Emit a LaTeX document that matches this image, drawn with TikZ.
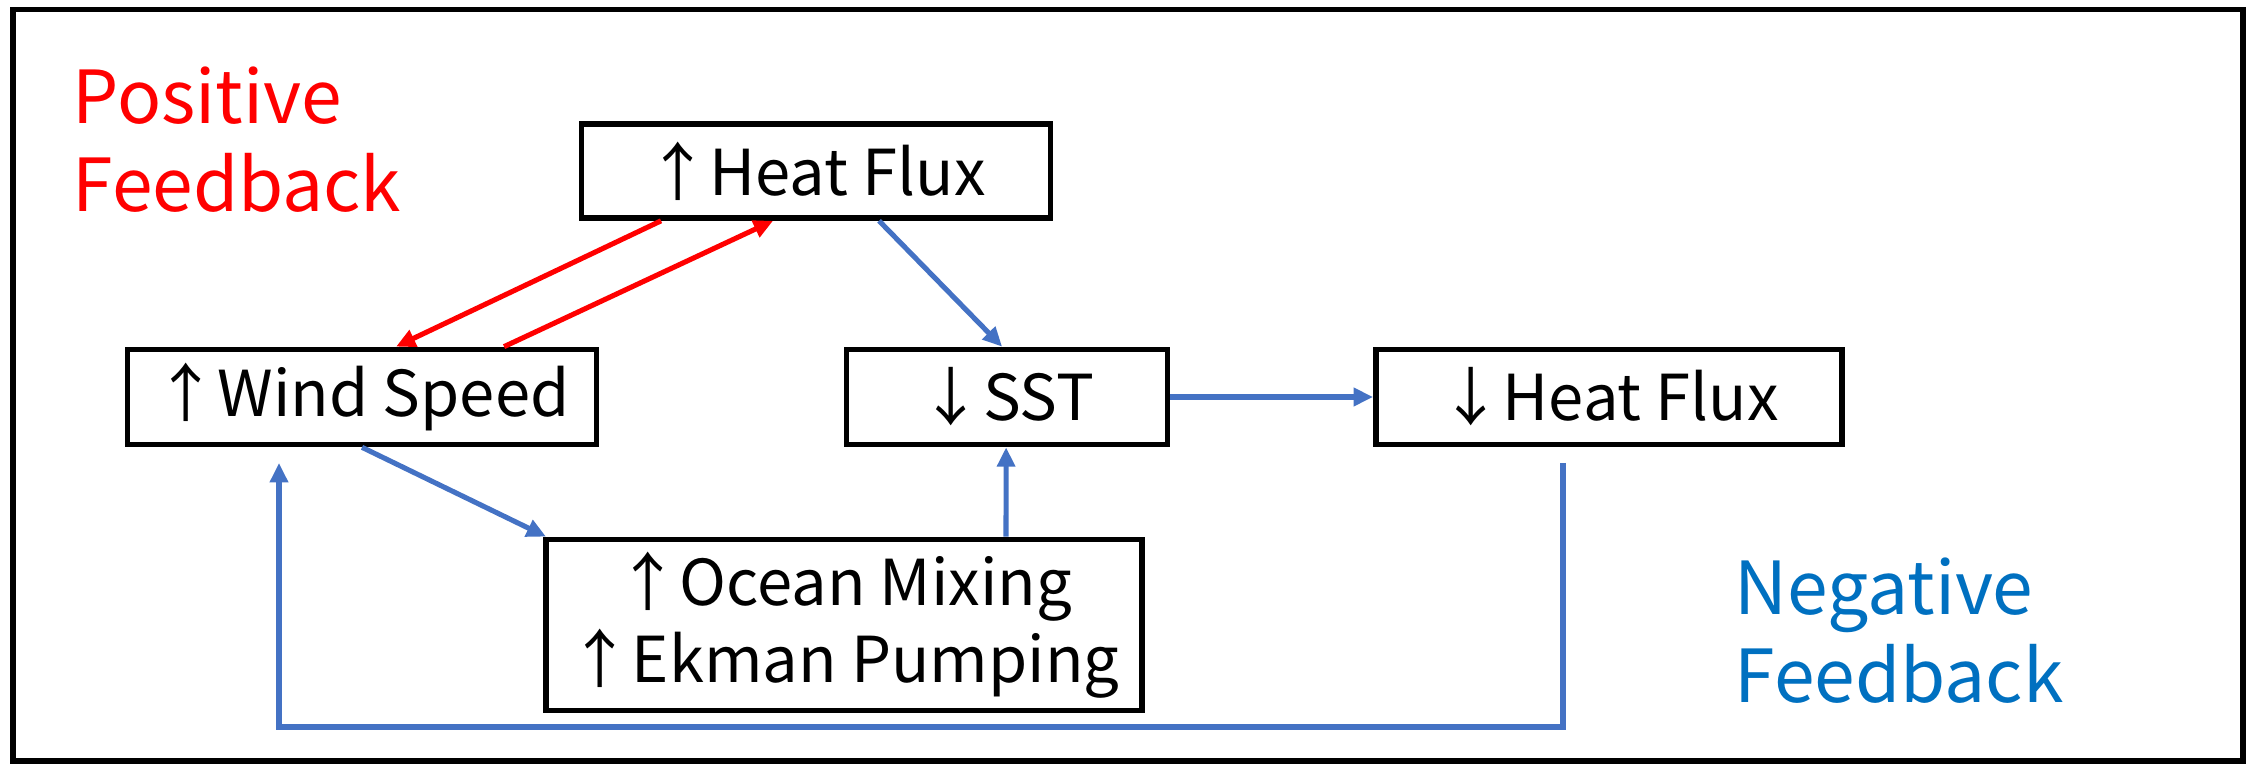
\documentclass[tikz,border=0pt]{standalone}
\usepackage{fontspec}
\setmainfont{Noto Sans CJK JP}
\usetikzlibrary{arrows.meta,calc}
\definecolor{posred}{RGB}{255,0,0}
\definecolor{linkblue}{RGB}{68,114,196}
\definecolor{negblue}{RGB}{0,112,192}
\begin{document}
\begin{tikzpicture}[x=0.01cm,y=-0.01cm,
  box/.style={draw=black,line width=1.6pt,inner sep=0pt,align=center,
    font=\fontsize{18}{21.9}\selectfont},
  tip/.style={-{Triangle[length=5.5pt,width=5pt]}},
  redlink/.style={tip,draw=posred,line width=1.45pt},
  bluelink/.style={tip,draw=linkblue,line width=1.45pt},
  label/.style={inner sep=0pt,anchor=base west,align=left,
    font=\fontsize{20.8}{25.3}\selectfont}]
\useasboundingbox (0,0) rectangle (2252,765);
% outer frame
\draw[line width=1.6pt] (13,9.5) rectangle (2243,761);

% boxes
\node[box,minimum width=4.69cm,minimum height=0.94cm] (hfu) at (816,171) {↑Heat Flux};
\node[box,minimum width=4.69cm,minimum height=0.95cm] (ws) at (362,397) {↑Wind Speed};
\node[box,minimum width=3.21cm,minimum height=0.95cm] (sst) at (1007,397) {↓SST};
\node[box,minimum width=4.66cm,minimum height=0.95cm] (hfd) at (1609,397) {↓Heat Flux};
\node[box,minimum width=5.96cm,minimum height=1.71cm] (ocean) at (844,625) {↑Ocean Mixing\\↑Ekman Pumping};

% feedback labels (anchored on the baseline of their last line)
\node[label,text=posred] (pos) at (72,212) {Positive\\Feedback};
\node[label,text=negblue] (neg) at (1734,703) {Negative\\Feedback};

% positive loop
\draw[redlink] ($(hfu.south west)+(82.5,0)$) -- ($(ws.north west)+(271.5,0)$);
\draw[redlink] ($(ws.north west)+(379.5,0)$) -- ($(hfu.south west)+(194.5,0)$);

% negative loop
\draw[bluelink] ($(hfu.south west)+(300.5,0)$) -- ($(sst.north west)+(158.5,0)$);
\draw[bluelink] (sst.east) -- (hfd.west);
\draw[bluelink] ($(ws.south west)+(237.5,0)$) -- ($(ocean.north west)+(3,0)$);
\draw[bluelink] ($(ocean.north west)+(463,0)$) -- ($(sst.south west)+(162.5,0)$);
\coordinate (loopS) at (1563,463);
\coordinate (loopE) at (279,463);
\draw[bluelink] (loopS) -- ++(0,264) -| (loopE);
\end{tikzpicture}
\end{document}
